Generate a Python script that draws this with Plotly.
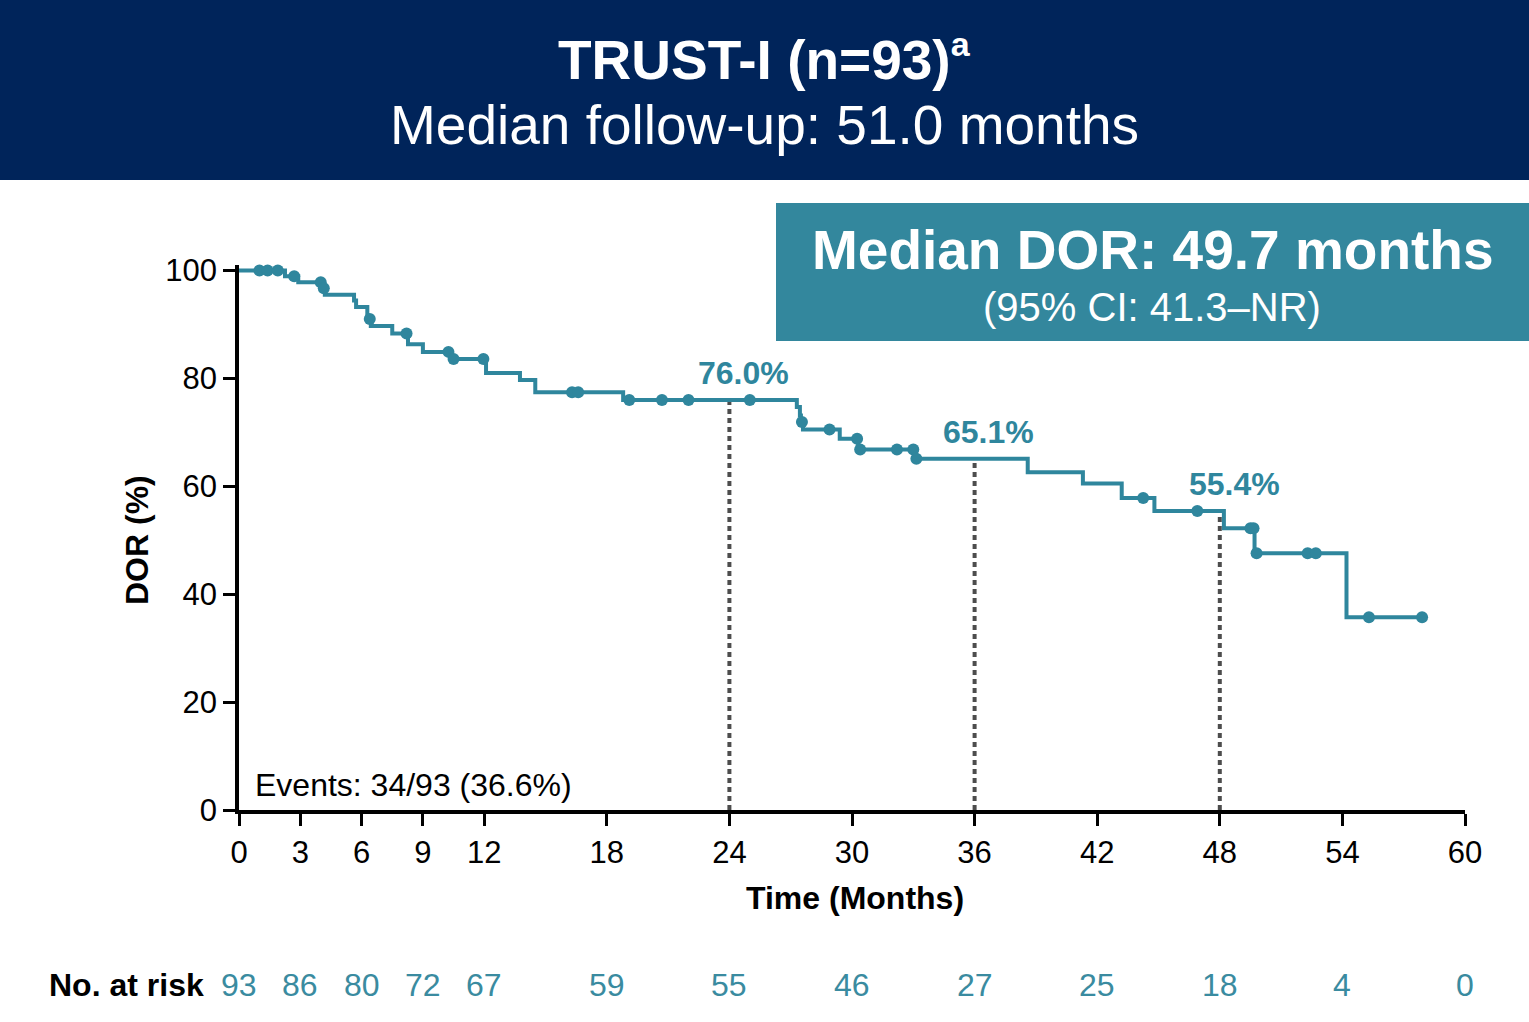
import numpy as np
import plotly.graph_objects as go

# ── data ──────────────────────────────────────────────────────────────
event_times = [2.25, 2.9, 4.1, 4.2, 5.63, 5.73, 6.28, 6.45, 7.5, 8.27, 9.0,
               10.4, 12.09, 13.75, 14.5, 18.8, 27.3, 27.45, 27.5, 27.6, 29.4,
               30.3, 33.05, 38.6, 41.3, 43.2, 44.8, 48.2, 49.7, 54.2]
event_surv = [98.9, 97.8, 96.7, 95.5, 94.4, 93.2, 91.0, 89.7, 88.3, 86.3, 84.9,
              83.6, 81.0, 79.7, 77.4, 76.0, 74.7, 73.1, 71.9, 70.5, 68.8,
              66.8, 65.1, 62.6, 60.5, 57.8, 55.4, 52.2, 47.6, 35.7]
censor_times = [1.0, 1.4, 1.9, 2.7, 4.0, 4.15, 6.4, 8.2, 10.25, 10.5, 11.96,
                16.3, 16.6, 19.1, 20.7, 22.0, 25.0, 27.55, 28.9, 30.25, 30.4,
                32.2, 33.0, 33.15, 44.25, 46.9, 49.5, 49.65, 49.8, 52.3, 52.7,
                55.3, 57.9]

landmark_months = [24, 36, 48]
landmark_values = [76.0, 65.1, 55.4]
landmark_labels = ["76.0%", "65.1%", "55.4%"]

risk_months = [0, 3, 6, 9, 12, 18, 24, 30, 36, 42, 48, 54, 60]
at_risk = [93, 86, 80, 72, 67, 59, 55, 46, 27, 25, 18, 4, 0]

TEAL = "#2F869D"
NAVY = "#00245A"
BOX = "#33879D"
FONT = "Liberation Sans, Arial, sans-serif"

W, H = 1529, 1022
L, R, T, B = 239, 64, 265, 212


def px_x(p):
    return (p - L) / (W - L - R)


def px_y(p):
    return (H - B - p) / (H - T - B)


def note(text, x, y, size, color="black", xref="paper", yref="paper", **kw):
    d = dict(x=x, y=y, xref=xref, yref=yref, text=text, showarrow=False,
             xanchor="center", yanchor="middle",
             font=dict(family=FONT, size=size, color=color))
    d.update(kw)
    return d


# step curve
step_x = [0] + event_times + [censor_times[-1]]
step_y = [100] + event_surv + [event_surv[-1]]

# censor levels from the step function
idx = np.searchsorted(event_times, censor_times, side="right")
levels = np.array([100] + event_surv)
censor_surv = levels[idx]

fig = go.Figure()

for m, v in zip(landmark_months, landmark_values):
    fig.add_trace(go.Scatter(
        x=[m, m], y=[0, v], mode="lines",
        line=dict(color="#4D4D4D", width=4, dash="5px,4px"),
        showlegend=False, hoverinfo="skip",
    ))

fig.add_trace(go.Scatter(
    x=step_x, y=step_y, mode="lines", line_shape="hv",
    line=dict(color=TEAL, width=4), showlegend=False,
))
fig.add_trace(go.Scatter(
    x=censor_times, y=censor_surv, mode="markers",
    marker=dict(color=TEAL, size=12), showlegend=False, cliponaxis=False,
))

annotations = []
for m, v, lab in zip(landmark_months, landmark_values, landmark_labels):
    annotations.append(note(f"<b>{lab}</b>", m + 0.7, v + 5.0, 32, TEAL,
                            xref="x", yref="y"))

annotations.append(note("Events: 34/93 (36.6%)", 0.7, 4.6, 32,
                        xref="x", yref="y", xanchor="left"))

# axis titles
annotations.append(note("<b>DOR (%)</b>", px_x(137), px_y(540), 32,
                        textangle=-90))
annotations.append(note("<b>Time (Months)</b>", px_x(855), px_y(898), 32))

# risk table
annotations.append(note("<b>No. at risk</b>", px_x(206), px_y(985), 32,
                        xanchor="right"))
for m, n in zip(risk_months, at_risk):
    annotations.append(note(str(n), m, px_y(985), 32, "#3A8BA0", xref="x"))

# header texts
annotations.append(note(
    "<b>TRUST-I (n=93)<sup><span style='font-size:34px'>a</span></sup></b>",
    px_x(764.5), px_y(58), 55, "white"))
annotations.append(note("Median follow-up: 51.0 months",
                        px_x(764.5), px_y(125), 55, "white"))

# median box texts
annotations.append(note("<b>Median DOR: 49.7 months</b>",
                        px_x(1152), px_y(250), 55, "white"))
annotations.append(note("(95% CI: 41.3\u2013NR)",
                        px_x(1152), px_y(307), 40, "white"))

shapes = [
    dict(type="rect", xref="paper", yref="paper",
         x0=px_x(0), x1=px_x(W), y0=px_y(180), y1=px_y(0),
         fillcolor=NAVY, line_width=0, layer="below"),
    dict(type="rect", xref="paper", yref="paper",
         x0=px_x(776), x1=px_x(W), y0=px_y(341), y1=px_y(203),
         fillcolor=BOX, line_width=0, layer="below"),
]

fig.update_layout(
    width=W, height=H,
    margin=dict(l=L, r=R, t=T, b=B, autoexpand=False),
    paper_bgcolor="white", plot_bgcolor="white",
    font=dict(family=FONT, size=30, color="black"),
    annotations=annotations, shapes=shapes,
    xaxis=dict(
        range=[0, 60], tickvals=risk_months, ticks="outside", ticklen=12,
        tickwidth=3, tickcolor="black", showline=True, linewidth=3.5,
        linecolor="black", showgrid=False, zeroline=False,
        tickfont=dict(size=31),
    ),
    yaxis=dict(
        range=[0, 101], tickvals=[0, 20, 40, 60, 80, 100], ticks="outside",
        ticklen=12, tickwidth=3, tickcolor="black", showline=True,
        linewidth=3.5, linecolor="black", showgrid=False, zeroline=False,
        tickfont=dict(size=31),
    ),
)

fig.write_html("out.html", config={"displayModeBar": False},
               post_script="document.body.style.margin='0';"
                           "document.body.style.overflow='hidden';")
